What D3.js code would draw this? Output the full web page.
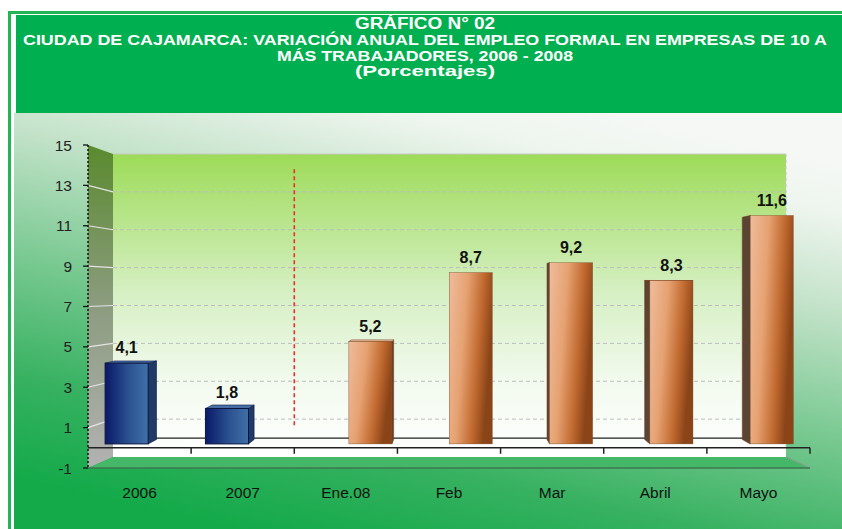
<!DOCTYPE html>
<html>
<head>
<meta charset="utf-8">
<script src="https://cdn.jsdelivr.net/npm/d3@7"></script>
<style>
  body { margin: 0; background: #fff; }
  svg { display: block; font-family: Arial, "Liberation Sans", sans-serif; }
</style>
</head>
<body>
<div id="chart"></div>
<script>
// data
const categories = ["2006", "2007", "Ene.08", "Feb", "Mar", "Abril", "Mayo"];
const seriesNames = ["anual", "mensual"];
const anualValues = [4.1, 1.8, null, null, null, null, null];
const mensualValues = [null, null, 5.2, 8.7, 9.2, 8.3, 11.6];
const yTicks = [-1, 1, 3, 5, 7, 9, 11, 13, 15];
const titleLines = [
    "GRÁFICO N° 02",
    "CIUDAD DE CAJAMARCA:  VARIACIÓN ANUAL  DEL  EMPLEO FORMAL  EN EMPRESAS DE 10 A",
    "MÁS TRABAJADORES,  2006  - 2008",
    "(Porcentajes)"
];
const titleWidths = [140, 804, 296, 140];
const dividerBefore = "Ene.08";

const W = 842, H = 529;

let svg = d3.select("#chart").append("svg")
    .attr("width", W)
    .attr("height", H);

let defs = svg.append("defs");

function linGrad(id, x1, y1, x2, y2, stops) {
    let g = defs.append("linearGradient").attr("id", id)
        .attr("x1", x1).attr("y1", y1).attr("x2", x2).attr("y2", y2);
    stops.forEach(function (s) {
        g.append("stop").attr("offset", s[0]).attr("stop-color", s[1]);
    });
}

linGrad("bgGrad", "0.72", "0", "0.28", "1", [
    [0, "#f5f8f5"], [0.1, "#eef5ee"], [0.3, "#c2e2c8"], [0.55, "#7ac992"], [0.8, "#36b160"], [1, "#14aa4a"]]);
linGrad("backWall", "0", "0", "0", "1", [
    [0, "#9ddb58"], [0.45, "#d5efc2"], [0.75, "#f2faee"], [1, "#ffffff"]]);
linGrad("sideWall", "0", "0", "0", "1", [
    [0, "#5a8a2e"], [0.5, "#8c9c80"], [1, "#b2b2b2"]]);
linGrad("blueFront", "0", "0", "1", "0", [
    [0, "#0a1868"], [0.55, "#2b5290"], [1, "#4070a8"]]);
linGrad("orangeFront", "0", "0", "1", "0.3", [
    [0, "#eebc9c"], [0.4, "#e6a272"], [0.75, "#c0692f"], [1, "#8a4418"]]);

// background, frame and header
svg.append("rect")
    .attr("x", 14).attr("y", 113).attr("width", W - 14).attr("height", H - 113)
    .attr("fill", "url(#bgGrad)");
svg.append("rect")
    .attr("x", 9.5).attr("y", 12.5).attr("width", W).attr("height", H)
    .attr("fill", "none").attr("stroke", "#22b455").attr("stroke-width", 3);
svg.append("rect")
    .attr("x", 16).attr("y", 15).attr("width", W - 16).attr("height", 98)
    .attr("fill", "#00b050");

svg.append("g").selectAll("text")
    .data(titleLines)
    .enter().append("text")
    .attr("x", 425)
    .attr("y", function (d, i) { return 29 + i * 15.8; })
    .attr("text-anchor", "middle")
    .attr("textLength", function (d, i) { return titleWidths[i]; })
    .attr("lengthAdjust", "spacingAndGlyphs")
    .attr("fill", "#ffffff")
    .attr("font-weight", "bold")
    .attr("font-size", function (d, i) { return i === 0 ? "16px" : "15.5px"; })
    .text(function (d) { return d; });

// 3d frame geometry: front plane and back plane
let yFront = d3.scaleLinear().domain([-1, 15]).range([468, 145]);
let yBack = d3.scaleLinear().domain([-1, 15]).range([457, 154]);
let xFront = d3.scaleBand().domain(categories).range([88, 810]);
let xBack = d3.scaleBand().domain(categories).range([113, 786]);

// bars sit at 40% of the depth
let t = 0.4;
let yBar = d3.scaleLinear().domain([-1, 15])
    .range([yFront(-1) + (yBack(-1) - yFront(-1)) * t, yFront(15) + (yBack(15) - yFront(15)) * t]);
let xBar = d3.scaleBand().domain(categories)
    .range([88 + (113 - 88) * t, 810 + (786 - 810) * t]);
let xSeries = d3.scaleBand().domain(seriesNames)
    .range([0, xBar.bandwidth()])
    .paddingInner(0).paddingOuter(0.165);

let bx0 = xBack.range()[0], bx1 = xBack.range()[1];
let fx0 = xFront.range()[0], fx1 = xFront.range()[1];

// back wall
svg.append("rect")
    .attr("x", bx0).attr("y", yBack(15))
    .attr("width", bx1 - bx0).attr("height", yBack(-1) - yBack(15))
    .attr("fill", "url(#backWall)");
svg.append("line")
    .attr("x1", bx0).attr("x2", bx1).attr("y1", yBack(15)).attr("y2", yBack(15))
    .attr("stroke", "#c8c8c8");
svg.append("line")
    .attr("x1", bx1).attr("x2", bx1).attr("y1", yBack(15)).attr("y2", yFront(0))
    .attr("stroke", "#c4c4c4").attr("stroke-dasharray", "3,3");

// left side wall
svg.append("polygon")
    .attr("points", [[fx0, yFront(15)], [bx0, yBack(15)], [bx0, yBack(-1)], [fx0, yFront(-1)]].join(" "))
    .attr("fill", "url(#sideWall)");

let gridVals = yTicks.filter(function (v) { return v > -1 && v < 15; });
svg.append("g").selectAll("line")
    .data(gridVals)
    .enter().append("line")
    .attr("x1", bx0).attr("x2", bx1)
    .attr("y1", function (d) { return yBack(d); })
    .attr("y2", function (d) { return yBack(d); })
    .attr("stroke", "#bdbdbd").attr("stroke-dasharray", "4,3");
svg.append("g").selectAll("line")
    .data(gridVals)
    .enter().append("line")
    .attr("x1", fx0).attr("x2", bx0)
    .attr("y1", function (d) { return yFront(d); })
    .attr("y2", function (d) { return yBack(d); })
    .attr("stroke", "#e4e4e4").attr("stroke-width", 1.2);

// zero line on back wall
svg.append("line")
    .attr("x1", bx0).attr("x2", bx1).attr("y1", yBack(0)).attr("y2", yBack(0))
    .attr("stroke", "#222").attr("stroke-width", 1.3);

// floor
svg.append("polygon")
    .attr("points", [[bx0, yBack(-1)], [bx1, yBack(-1)], [fx1, yFront(-1)], [fx0, yFront(-1)]].join(" "))
    .attr("fill", "#44b868");
svg.append("line")
    .attr("x1", bx1).attr("y1", yBack(-1)).attr("x2", fx1).attr("y2", yFront(-1))
    .attr("stroke", "#8a9a8e").attr("stroke-width", 1.2);
svg.append("line")
    .attr("x1", fx0).attr("y1", yFront(-1)).attr("x2", fx1).attr("y2", yFront(-1))
    .attr("stroke", "#3f7650").attr("stroke-width", 1.5);

// front category axis at 0
let axisG = svg.append("g");
axisG.append("line")
    .attr("x1", fx0).attr("x2", fx1).attr("y1", yFront(0)).attr("y2", yFront(0))
    .attr("stroke", "#222").attr("stroke-width", 1.5);
let tickXs = categories.slice(1).map(function (c) { return xFront(c); }).concat([fx1]);
axisG.selectAll("line.tick")
    .data(tickXs)
    .enter().append("line")
    .attr("class", "tick")
    .attr("x1", function (d) { return d; }).attr("x2", function (d) { return d; })
    .attr("y1", yFront(0)).attr("y2", yFront(0) + 6)
    .attr("stroke", "#222").attr("stroke-width", 1.5);

// divider line between annual and monthly data
svg.append("line")
    .attr("x1", xFront(dividerBefore)).attr("x2", xFront(dividerBefore))
    .attr("y1", yFront(13.8)).attr("y2", yFront(1))
    .attr("stroke", "#e8302c").attr("stroke-width", 1.6)
    .attr("stroke-dasharray", "4,3");

// bars
let vp = {x: 456, y: 280}, k = 0.027;
function backPt(x, y) {
    return [x + (vp.x - x) * k, y + (vp.y - y) * k];
}

let barData = [];
categories.forEach(function (c, i) {
    if (anualValues[i] != null) barData.push({cat: c, series: "anual", value: anualValues[i]});
    if (mensualValues[i] != null) barData.push({cat: c, series: "mensual", value: mensualValues[i]});
});

let barG = svg.append("g");
barData.forEach(function (d) {
    let x0 = xBar(d.cat) + xSeries(d.series);
    let x1 = x0 + xSeries.bandwidth();
    let yt = yBar(d.value), yb = yBar(0);
    let blue = d.series === "anual";
    let sideFill = blue ? "#203a68" : "#5a4434";
    let edge = blue ? "#0b1640" : "#7a4020";

    if (x1 < vp.x) {
        let a = backPt(x1, yt), b = backPt(x1, yb);
        barG.append("polygon")
            .attr("points", [[x1, yt], a, b, [x1, yb]].join(" "))
            .attr("fill", sideFill).attr("stroke", edge).attr("stroke-width", 0.6);
    } else if (x0 > vp.x) {
        let a = backPt(x0, yt), b = backPt(x0, yb);
        barG.append("polygon")
            .attr("points", [[x0, yt], a, b, [x0, yb]].join(" "))
            .attr("fill", sideFill).attr("stroke", edge).attr("stroke-width", 0.6);
    }
    if (yt > vp.y) {
        barG.append("polygon")
            .attr("points", [[x0, yt], [x1, yt], backPt(x1, yt), backPt(x0, yt)].join(" "))
            .attr("fill", blue ? "#4a70a8" : "#f0c4a4").attr("stroke", edge).attr("stroke-width", 0.6);
    }
    barG.append("rect")
        .attr("x", x0).attr("y", yt)
        .attr("width", x1 - x0).attr("height", yb - yt)
        .attr("fill", blue ? "url(#blueFront)" : "url(#orangeFront)")
        .attr("stroke", edge).attr("stroke-width", blue ? 1 : 0.4);
});

// value labels
let fmt = d3.format(".1f");
svg.append("g").selectAll("text")
    .data(barData)
    .enter().append("text")
    .attr("x", function (d) { return xBar(d.cat) + xSeries(d.series) + xSeries.bandwidth() / 2; })
    .attr("y", function (d) { return yBar(d.value) - 10; })
    .attr("text-anchor", "middle")
    .attr("font-size", "16px")
    .attr("font-weight", "bold")
    .attr("fill", "#111")
    .text(function (d) { return fmt(d.value).replace(".", ","); });

// value axis (front left edge)
svg.append("line")
    .attr("x1", fx0).attr("x2", fx0).attr("y1", yFront(15)).attr("y2", yFront(-1))
    .attr("stroke", "#111").attr("stroke-width", 1.5).attr("stroke-dasharray", "2,2");
let yAxisG = svg.append("g");
yAxisG.selectAll("line")
    .data(yTicks)
    .enter().append("line")
    .attr("x1", fx0 - 5).attr("x2", fx0)
    .attr("y1", function (d) { return yFront(d); })
    .attr("y2", function (d) { return yFront(d); })
    .attr("stroke", "#111").attr("stroke-width", 1.3);
yAxisG.selectAll("text")
    .data(yTicks)
    .enter().append("text")
    .attr("x", 72)
    .attr("y", function (d) { return yFront(d); })
    .attr("dy", "0.36em")
    .attr("text-anchor", "end")
    .attr("font-size", "15.5px")
    .attr("fill", "#222")
    .text(function (d) { return d; });

// category labels
svg.append("g").selectAll("text")
    .data(categories)
    .enter().append("text")
    .attr("x", function (d) { return xFront(d) + xFront.bandwidth() / 2; })
    .attr("y", 498)
    .attr("text-anchor", "middle")
    .attr("font-size", "15.5px")
    .attr("fill", "#111")
    .text(function (d) { return d; });
</script>
</body>
</html>
